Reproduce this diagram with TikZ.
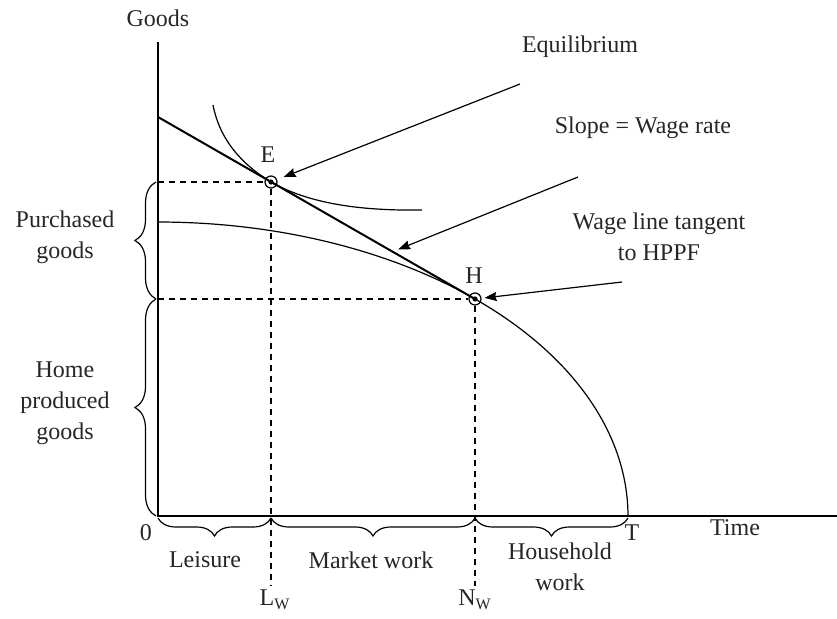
\documentclass[tikz,border=0pt]{standalone}
\usepackage{fontspec}
\setmainfont{Liberation Serif}
\usetikzlibrary{arrows.meta,decorations.pathreplacing,calc}

\begin{document}
\begin{tikzpicture}[x=0.5pt,y=0.5pt,
  lbl/.style={text=black!85,font=\fontsize{12}{15.5}\selectfont,align=center,inner sep=0pt},
  axis/.style={line width=0.7pt},
  curve/.style={line width=0.6pt},
  guide/.style={line width=0.6pt,dash pattern=on 3pt off 2.5pt},
  brc/.style={decorate,decoration={brace,amplitude=10.5pt,raise=1pt},line width=0.6pt},
  brcm/.style={decorate,decoration={brace,mirror,amplitude=9pt,raise=1pt},line width=0.6pt},
  arr/.style={-{Stealth[length=6pt,width=4.5pt,inset=0.6pt]},line width=0.6pt},
  pt/.style={circle,draw,line width=0.6pt,minimum size=6pt,inner sep=0pt}]
\useasboundingbox (-158,-102) rectangle (679,516);

% axes
\coordinate (O) at (0,0);
\coordinate (ytop) at (0,474);
\coordinate (xend) at (679,0);
\draw[axis] (ytop) -- (O) -- (xend);

% household production frontier
\draw[curve] plot[domain=90:0,samples=90] ({470*cos(\x)},{294*sin(\x)});

% points on the wage line
\node[pt] (H) at (317,217) {};
\node[pt] (E) at (113,334) {};
\fill (H.center) circle (1.3pt);
\fill (E.center) circle (1.3pt);

% wage line and indifference curve
\coordinate (w0) at (0,399);
\draw[line width=1pt] (w0) -- coordinate[pos=0.74] (onwage) (H.center);
\draw[curve] (55,411) .. controls (62,375) and (85,351) .. (E.center)
  .. controls (150,313) and (200,305) .. (264,306);

% guides
\coordinate (eY) at (0,334);
\coordinate (hY) at (0,217);
\coordinate (eX) at (113,-70);
\coordinate (hX) at (317,-70);
\coordinate (eX0) at (113,0);
\coordinate (hX0) at (317,0);
\coordinate (T0) at (470,0);
\draw[guide] (eY) -- (E); \draw[guide] (E) -- (eX);
\draw[guide] (hY) -- (H); \draw[guide] (H) -- (hX);

% braces
\draw[brc] (O) -- (hY);
\draw[brc] (hY) -- (eY);
\draw[brcm] (O) -- (eX0);
\draw[brcm] (eX0) -- (hX0);
\draw[brcm] (hX0) -- (T0);

% callouts
\coordinate (eqtail) at (362,432);
\coordinate (slopetail) at (420,339);
\coordinate (wtail) at (464,234);
\draw[arr,shorten >=3.5pt] (eqtail) -- (E);
\draw[arr,shorten >=3pt] (slopetail) -- (onwage);
\draw[arr,shorten >=1.5pt] (wtail) -- (H);

% labels
\node[lbl] (goods) at (0,498) {Goods};
\node[lbl] (time) at (577,-12) {Time};
\node[lbl] (zero) at (-12,-17) {0};
\node[lbl] (tlbl) at (474,-17) {T};
\node[lbl] (elbl) at (110,361) {E};
\node[lbl] (hlbl) at (316,240) {H};
\node[lbl] (equil) at (422,469) {Equilibrium};
\node[lbl] (slope) at (485,388) {Slope = Wage rate};
\node[lbl] (tangent) at (501,279) {Wage line tangent\\to HPPF};
\node[lbl] (purch) at (-93,279) {Purchased\\goods};
\node[lbl] (home) at (-93,113) {Home\\produced\\goods};
\node[lbl] (leisure) at (47,-44) {Leisure};
\node[lbl] (market) at (213,-44) {Market work};
\node[lbl] (hhwork) at (402,-51) {Household\\work};
\node[lbl] (lw) at (117,-84) {L\textsubscript{W}};
\node[lbl] (nw) at (317,-84) {N\textsubscript{W}};
\end{tikzpicture}
\end{document}
